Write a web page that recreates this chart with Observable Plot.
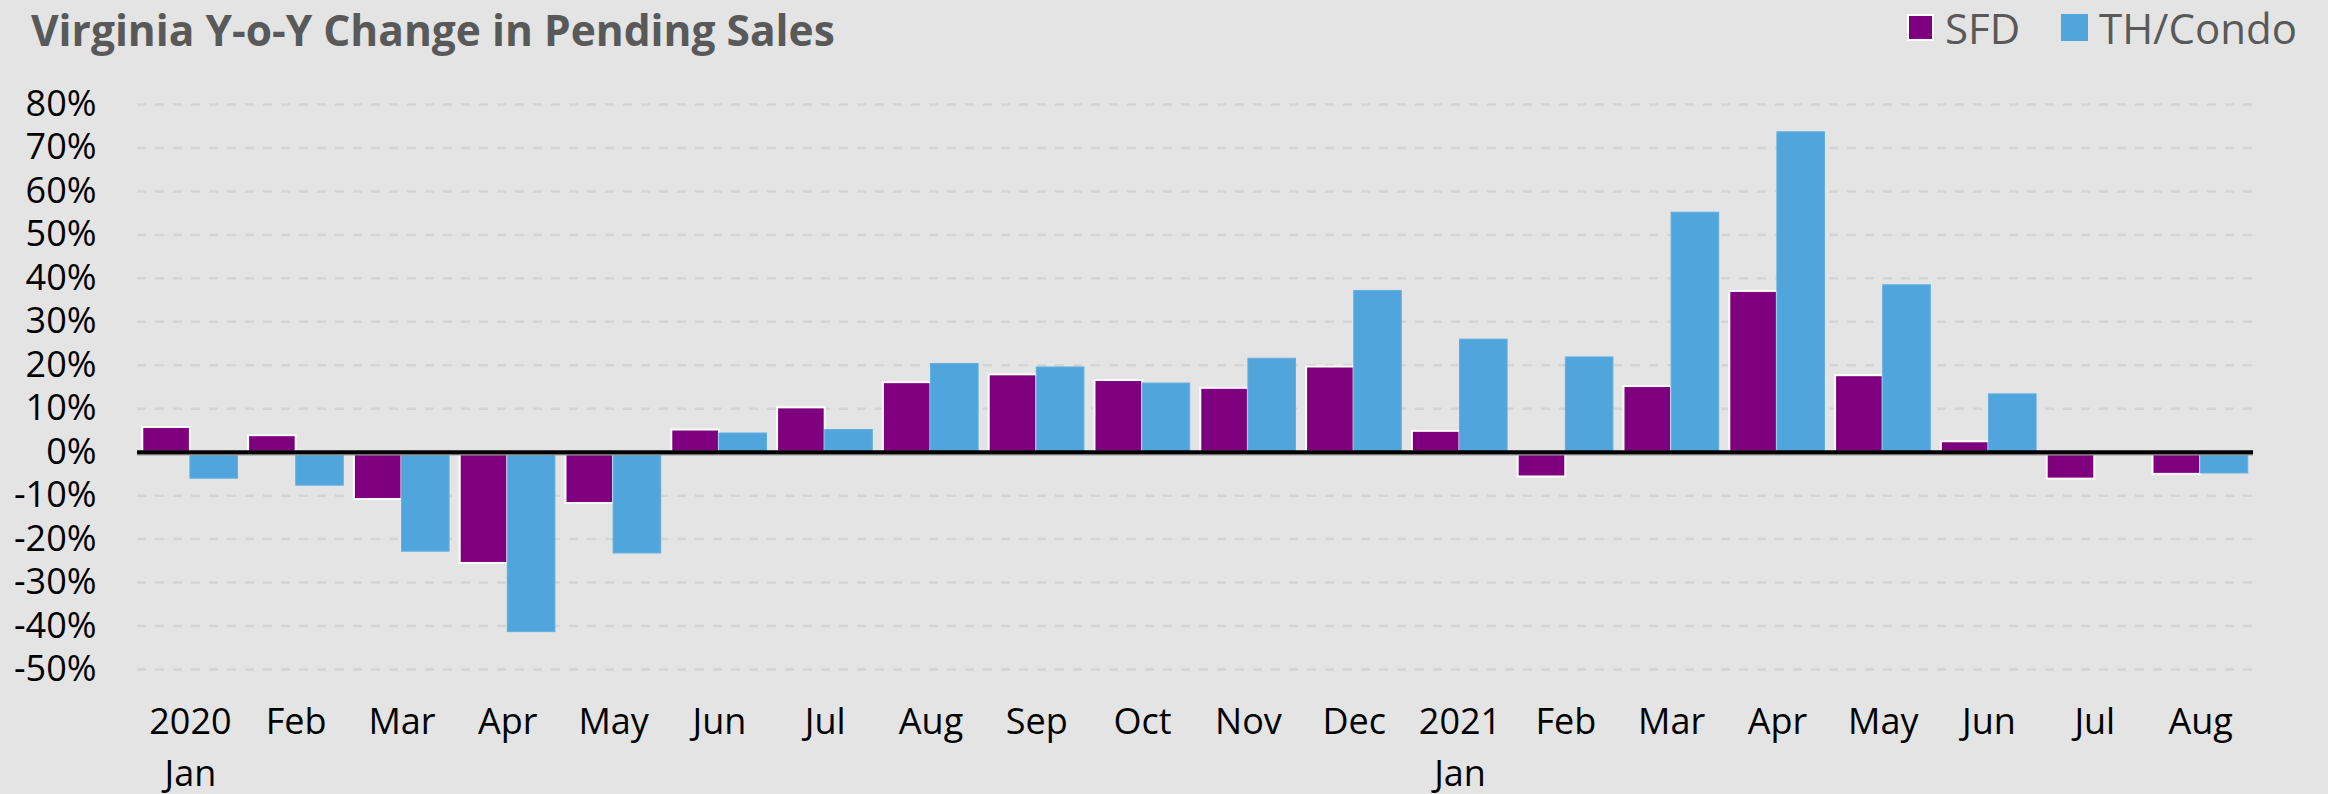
<!DOCTYPE html>
<html>
<head>
<meta charset="utf-8">
<script src="https://cdn.jsdelivr.net/npm/d3@7"></script>
<script src="https://cdn.jsdelivr.net/npm/@observablehq/plot@0.6"></script>
<style>
  html, body { margin: 0; padding: 0; background: #e4e4e4; }
  #wrap { position: relative; width: 2328px; height: 794px; overflow: hidden; font-family: "Open Sans", sans-serif; }
  #header { position: relative; width: 2328px; height: 70px; }
  #title { position: absolute; left: 31px; top: 9px; font-size: 42.5px; line-height: 42.5px; font-weight: 700; color: #595959; white-space: nowrap; }
  .lg { position: absolute; top: 7px; font-size: 42px; line-height: 42px; color: #595959; white-space: nowrap; }
  .sw { position: absolute; top: 14px; width: 27px; height: 27px; box-sizing: border-box; }
</style>
</head>
<body>
<div id="wrap">
  <div id="header">
    <div id="title">Virginia Y-o-Y Change in Pending Sales</div>
  </div>
  <div id="chart"></div>
</div>
<script>
const monthKeys = ["2020-01","2020-02","2020-03","2020-04","2020-05","2020-06","2020-07","2020-08","2020-09","2020-10","2020-11","2020-12","2021-01","2021-02","2021-03","2021-04","2021-05","2021-06","2021-07","2021-08"];
const monthLabels = ["2020\nJan","Feb","Mar","Apr","May","Jun","Jul","Aug","Sep","Oct","Nov","Dec","2021\nJan","Feb","Mar","Apr","May","Jun","Jul","Aug"];
const seriesNames = ["SFD","TH/Condo"];
const seriesColors = ["#7f007f","#4fa5dc"];
const sfdValues = [5.7,3.8,-10.9,-25.6,-11.8,5.1,10.2,16.0,17.8,16.5,14.7,19.6,4.8,-5.7,15.1,37.0,17.6,2.4,-6.2,-5.1];
const thCondoValues = [-6.1,-7.7,-22.9,-41.4,-23.3,4.3,5.1,20.3,19.5,15.8,21.5,37.1,25.9,21.8,55.1,73.6,38.4,13.3,null,-4.9];
const yTicks = [-50,-40,-30,-20,-10,0,10,20,30,40,50,60,70,80];

const sfdRows = monthKeys.map((m, i) => ({month: m, series: seriesNames[0], value: sfdValues[i]}));
const thRows = monthKeys.map((m, i) => ({month: m, series: seriesNames[1], value: thCondoValues[i]})).filter(d => d.value != null);

// legend
const header = document.getElementById("header");
const legendItems = [
  {name: seriesNames[0], color: seriesColors[0], sx: 1907, tx: 1945, border: "2px solid #ffffff"},
  {name: seriesNames[1], color: seriesColors[1], sx: 2061, tx: 2099, border: "none"}
];
for (const it of legendItems) {
  const sw = document.createElement("div");
  sw.className = "sw";
  sw.style.left = it.sx + "px";
  sw.style.background = it.color;
  sw.style.border = it.border;
  header.appendChild(sw);
  const t = document.createElement("div");
  t.className = "lg";
  t.style.left = it.tx + "px";
  t.textContent = it.name;
  header.appendChild(t);
}

const W = 2328, H = 724, ML = 137, MR = 75;
const PI = 0.1, PO = 0.05;
const xOpts = {type: "band", domain: monthKeys, paddingInner: PI, paddingOuter: PO, round: false, range: [ML, W - MR]};
const half = Plot.scale({x: xOpts}).bandwidth / 2;

const chart = Plot.plot({
  width: W,
  height: H,
  marginLeft: ML,
  marginRight: MR,
  marginTop: 34,
  marginBottom: 125,
  style: {background: "transparent", fontFamily: "Open Sans, sans-serif", color: "#000"},
  x: {domain: monthKeys, paddingInner: PI, paddingOuter: PO, round: false, label: null},
  y: {domain: [-50, 80], label: null},
  color: {domain: seriesNames, range: seriesColors},
  marks: [
    Plot.gridY(yTicks, {stroke: "#d4d4d4", strokeOpacity: 1, strokeWidth: 2.5, strokeDasharray: "9,9"}),
    Plot.axisY(yTicks, {tickSize: 0, tickPadding: 41, tickFormat: d => d + "%", fontSize: 36, label: null, fill: "#000"}),
    Plot.axisX({tickSize: 0, tickPadding: 28, tickFormat: d => monthLabels[monthKeys.indexOf(d)], fontSize: 36, lineHeight: 1.436, label: null, fill: "#000"}),
    Plot.barY(sfdRows, {x: "month", y: "value", fill: "series", stroke: "#ffffff", strokeWidth: 2, insetRight: half}),
    Plot.barY(thRows, {x: "month", y: "value", fill: "series", stroke: "#62b0e2", strokeWidth: 1, insetLeft: half}),
    Plot.ruleY([0], {stroke: "#9a9a9a", strokeWidth: 1.5, dy: 2.5}),
    Plot.ruleY([0], {stroke: "#000", strokeWidth: 4})
  ]
});
document.getElementById("chart").appendChild(chart);
</script>
</body>
</html>
